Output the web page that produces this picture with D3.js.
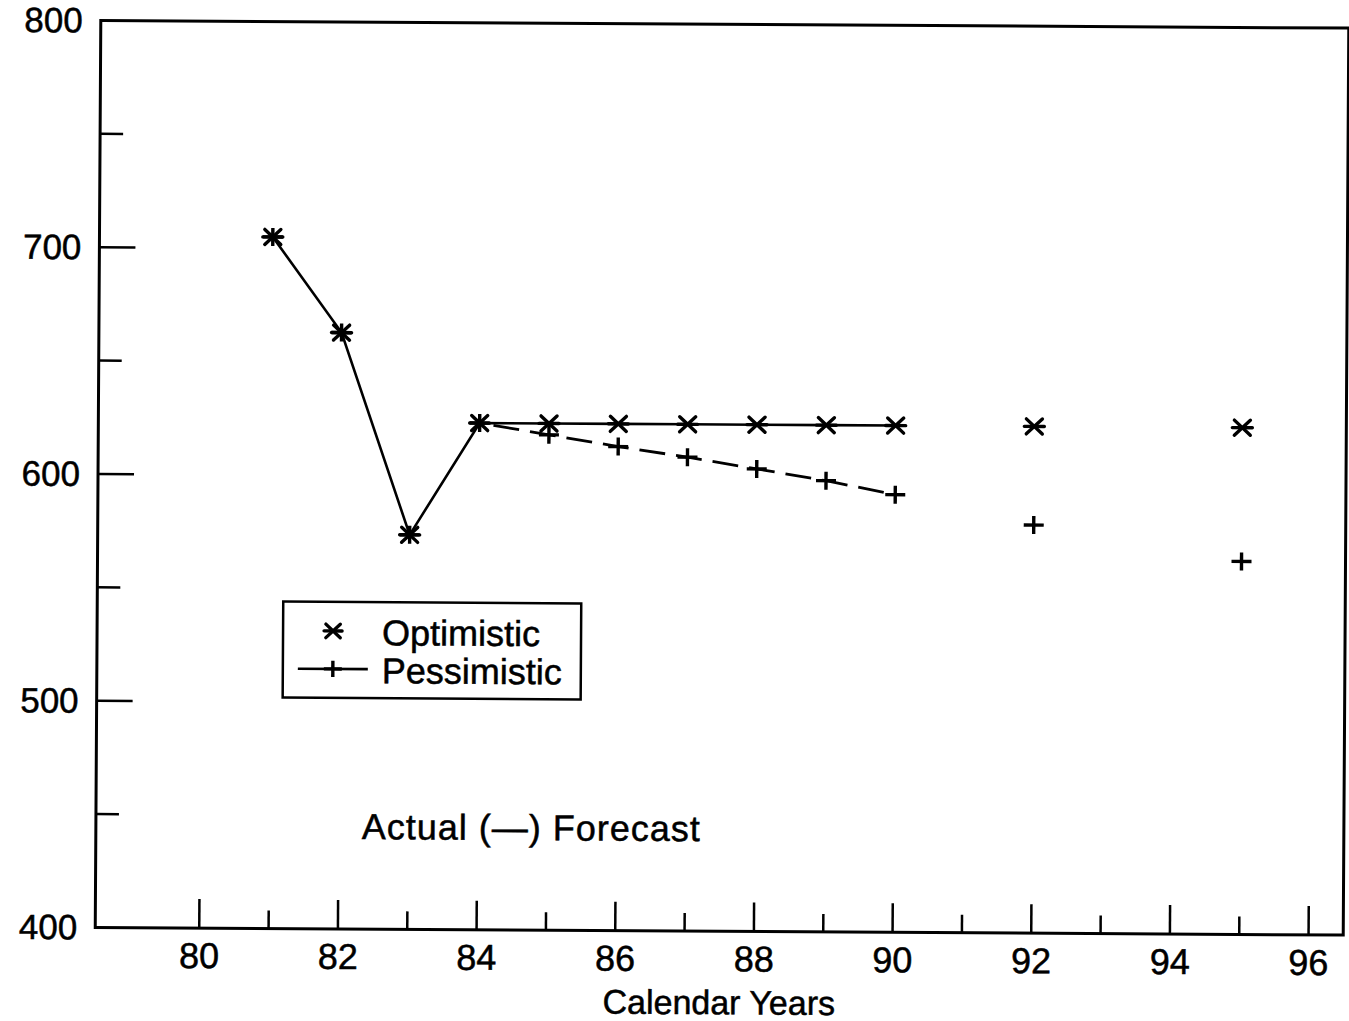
<!DOCTYPE html>
<html>
<head>
<meta charset="utf-8">
<script src="https://cdn.jsdelivr.net/npm/d3@7"></script>
<style>
  html, body { margin: 0; padding: 0; background: #fff; }
  svg { display: block; }
  text { font-family: "Liberation Sans", Arial, sans-serif; fill: #000; }
</style>
</head>
<body>
<script>
// ---- data ----
const years = [81, 82, 83, 84, 85, 86, 87, 88, 89, 90, 92, 95];
const optimistic = [705, 663, 574, 623.5, 623.5, 623.5, 623.5, 623.5, 623.5, 623.5, 623.5, 623.5];
const pessimistic = [705, 663, 574, 623.5, 618.5, 613.5, 609, 604, 599, 593, 580, 564.5];
const lastActualYear = 84;
const lastConnectedYear = 90;
const xTickValues = [80, 81, 82, 83, 84, 85, 86, 87, 88, 89, 90, 91, 92, 93, 94, 95, 96];
const xLabelValues = [80, 82, 84, 86, 88, 90, 92, 94, 96];
const yTickValues = [450, 500, 550, 600, 650, 700, 750];
const yLabelValues = [400, 500, 600, 700, 800];
const seriesNames = ["Optimistic", "Pessimistic"];
const xTitle = "Calendar Years";
const note = "Actual (\u2014) Forecast";

const W = 1349, H = 1021;
const svg = d3.select("body").append("svg").attr("width", W).attr("height", H);
const g = svg.append("g").attr("transform", "rotate(0.35, 674, 480)");

const x = d3.scaleLinear().domain([78.5, 96.5]).range([98, 1346]);
const y = d3.scaleLinear().domain([400, 800]).range([931, 24]);

// frame
g.append("rect")
  .attr("x", x(78.5)).attr("y", y(800))
  .attr("width", x(96.5) - x(78.5)).attr("height", y(400) - y(800))
  .attr("fill", "none").attr("stroke", "#000").attr("stroke-width", 3);

// x ticks (inward, up)
g.selectAll(".xt").data(xTickValues).enter().append("line")
  .attr("x1", d => x(d)).attr("x2", d => x(d))
  .attr("y1", y(400)).attr("y2", d => y(400) - (d % 2 === 0 ? 29 : 18))
  .attr("stroke", "#000").attr("stroke-width", 2.5);

g.selectAll(".xl").data(xLabelValues).enter().append("text")
  .attr("x", d => x(d)).attr("y", y(400) + 40)
  .attr("text-anchor", "middle").attr("font-size", 36)
  .attr("stroke", "#000").attr("stroke-width", 0.5)
  .text(d => d);

g.append("text")
  .attr("x", 722).attr("y", 1014)
  .attr("text-anchor", "middle").attr("font-size", 34)
  .attr("stroke", "#000").attr("stroke-width", 0.5)
  .text(xTitle);

// y ticks (inward, right)
g.selectAll(".yt").data(yTickValues).enter().append("line")
  .attr("x1", x(78.5)).attr("x2", d => x(78.5) + (d % 100 === 0 ? 36 : 23))
  .attr("y1", d => y(d)).attr("y2", d => y(d))
  .attr("stroke", "#000").attr("stroke-width", 2.5);

g.selectAll(".yl").data(yLabelValues).enter().append("text")
  .attr("x", 80).attr("y", d => y(d) + 12)
  .attr("text-anchor", "end").attr("font-size", 35)
  .attr("stroke", "#000").attr("stroke-width", 0.5)
  .text(d => d);

// data rows
const rows = years.map((yr, i) => ({ yr, opt: optimistic[i], pes: pessimistic[i] }));

// lines
const lineOpt = d3.line().x(d => x(d.yr)).y(d => y(d.opt));
const linePes = d3.line().x(d => x(d.yr)).y(d => y(d.pes));

g.append("path")
  .datum(rows.filter(d => d.yr >= lastActualYear && d.yr <= lastConnectedYear))
  .attr("d", linePes)
  .attr("fill", "none").attr("stroke", "#000").attr("stroke-width", 2.8)
  .attr("stroke-dasharray", "26,11").attr("stroke-dashoffset", -14);

g.append("path")
  .datum(rows.filter(d => d.yr <= lastConnectedYear))
  .attr("d", lineOpt)
  .attr("fill", "none").attr("stroke", "#000").attr("stroke-width", 2.6);

// markers
function asterisk(sel, cx, cy, s) {
  const a = sel.append("g").attr("transform", `translate(${cx},${cy})`)
    .attr("stroke", "#000").attr("stroke-width", 3.4).attr("stroke-linecap", "round");
  a.append("line").attr("x1", -s).attr("x2", s).attr("y1", 0).attr("y2", 0);
  a.append("line").attr("x1", -s * 0.8).attr("x2", s * 0.8).attr("y1", -s * 0.75).attr("y2", s * 0.75);
  a.append("line").attr("x1", -s * 0.8).attr("x2", s * 0.8).attr("y1", s * 0.75).attr("y2", -s * 0.75);
}
function plus(sel, cx, cy, s) {
  const p = sel.append("g").attr("transform", `translate(${cx},${cy})`)
    .attr("stroke", "#000").attr("stroke-width", 3.4).attr("stroke-linecap", "butt");
  p.append("line").attr("x1", -s).attr("x2", s).attr("y1", 0).attr("y2", 0);
  p.append("line").attr("x1", 0).attr("x2", 0).attr("y1", -s * 0.9).attr("y2", s * 0.9);
}

const markG = g.append("g");
rows.forEach(d => {
  plus(markG, x(d.yr), y(d.pes), 10);
  asterisk(markG, x(d.yr), y(d.opt), 10);
});

// legend
const lg = g.append("g");
lg.append("rect").attr("x", 284).attr("y", 604).attr("width", 298).attr("height", 96)
  .attr("fill", "#fff").attr("stroke", "#000").attr("stroke-width", 2.5);
asterisk(lg, 334, 633, 9);
lg.append("line").attr("x1", 299).attr("x2", 369).attr("y1", 671).attr("y2", 671)
  .attr("stroke", "#000").attr("stroke-width", 2.6);
plus(lg, 334, 671, 9);
lg.append("text").attr("x", 383).attr("y", 647).attr("font-size", 36)
  .attr("stroke", "#000").attr("stroke-width", 0.5).text(seriesNames[0]);
lg.append("text").attr("x", 383).attr("y", 685).attr("font-size", 36)
  .attr("stroke", "#000").attr("stroke-width", 0.5).text(seriesNames[1]);

// annotation
g.append("text").attr("x", 364).attr("y", 841).attr("font-size", 36)
  .attr("letter-spacing", 1).attr("xml:space", "preserve")
  .attr("stroke", "#000").attr("stroke-width", 0.5)
  .text(note);
</script>
</body>
</html>
